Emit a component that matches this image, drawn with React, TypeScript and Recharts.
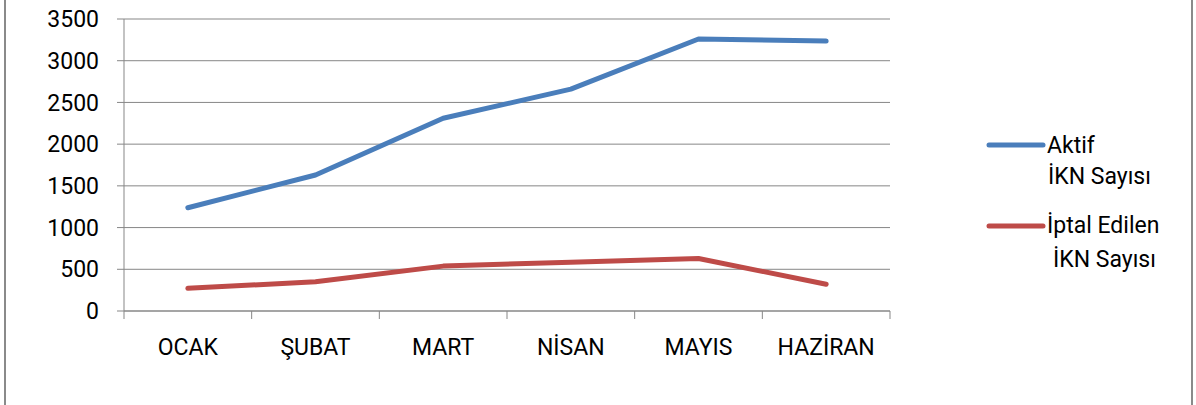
import React from "react";
import { LineChart, Line, XAxis, YAxis, CartesianGrid, Legend } from "recharts";

const months = ["OCAK", "ŞUBAT", "MART", "NİSAN", "MAYIS", "HAZİRAN"];
const aktif = [1238, 1630, 2310, 2660, 3260, 3235];
const iptal = [272, 350, 538, 585, 630, 320];
const yTicks = [0, 500, 1000, 1500, 2000, 2500, 3000, 3500];

const seriesNames = ["Aktif İKN Sayısı", "İptal Edilen İKN Sayısı"];
const seriesColors = ["#4A7EBB", "#BE4B48"];

const data = months.map((m, i) => ({ month: m, aktif: aktif[i], iptal: iptal[i] }));

const W = 1196;
const H = 405;
const LEFT = 124;
const RIGHT = 306;
const PLOT_W = W - LEFT - RIGHT;
const BAND = PLOT_W / months.length;
const GRID = "#878787";
const FONT = "Roboto, 'Noto Sans', sans-serif";

const MonthTick = (props: any) => {
  const { x, y, payload, index } = props;
  const half = BAND / 2;
  return (
    <g>
      <line x1={x - half} y1={y} x2={x - half} y2={y + 8} stroke={GRID} strokeWidth={1} />
      {index === months.length - 1 && (
        <line x1={x + half} y1={y} x2={x + half} y2={y + 8} stroke={GRID} strokeWidth={1} />
      )}
      <text x={x} y={y + 44} textAnchor="middle" fontSize={23} fontFamily={FONT} fill="#000">
        {payload.value}
      </text>
    </g>
  );
};

// legend labels wrap onto two lines like the original
const legendLines = [
  { lineY: 25, rows: [{ t: "Aktif", x: 67, y: 33 }, { t: "İKN Sayısı", x: 68, y: 64 }] },
  { lineY: 106, rows: [{ t: "İptal Edilen", x: 67, y: 113 }, { t: "İKN Sayısı", x: 73, y: 147 }] },
];

const LegendBox = (props: any) => {
  const payload = props.payload || [];
  return (
    <svg width={216} height={160} style={{ display: "block" }}>
      {payload.map((p: any, i: number) => {
        const cfg = legendLines[i];
        const words = String(p.value).split(" İKN ");
        const rows = [words[0], "İKN " + (words[1] || "")];
        return (
          <g key={p.value}>
            <line x1={9} y1={cfg.lineY} x2={63} y2={cfg.lineY} stroke={p.color} strokeWidth={5} strokeLinecap="round" />
            {rows.map((r, j) => (
              <text key={j} x={cfg.rows[j].x} y={cfg.rows[j].y} fontSize={23} fontFamily={FONT} fill="#000">
                {r}
              </text>
            ))}
          </g>
        );
      })}
    </svg>
  );
};

export default function App() {
  return (
    <div style={{ position: "absolute", left: 0, top: 0, width: W, height: H, background: "#fff" }}>
      <div style={{ position: "absolute", left: 4, top: 0, width: 1.5, height: H, background: "#8a8a8a" }} />
      <div style={{ position: "absolute", left: 1191, top: 0, width: 1.5, height: H, background: "#8a8a8a" }} />
      <LineChart width={W} height={H} data={data} margin={{ top: 19, right: RIGHT, bottom: 0, left: 0 }}>
        <CartesianGrid vertical={false} stroke={GRID} strokeWidth={1} />
        <XAxis
          dataKey="month"
          scale="band"
          height={94}
          tickSize={0}
          tickMargin={0}
          tickLine={false}
          axisLine={{ stroke: GRID }}
          tick={<MonthTick />}
          interval={0}
        />
        <YAxis
          width={LEFT}
          domain={[0, 3500]}
          ticks={yTicks}
          interval={0}
          tickSize={7}
          tickMargin={18}
          tickLine={{ stroke: GRID }}
          axisLine={{ stroke: GRID }}
          tick={{ fontSize: 23, fontFamily: FONT, fill: "#000" }}
        />
        <Legend
          layout="vertical"
          align="center"
          verticalAlign="middle"
          wrapperStyle={{ left: 980, top: 120, width: 216 }}
          content={<LegendBox />}
        />
        <Line
          type="linear"
          dataKey="aktif"
          name={seriesNames[0]}
          stroke={seriesColors[0]}
          strokeWidth={5}
          strokeLinecap="round"
          strokeLinejoin="round"
          dot={false}
          activeDot={false}
          isAnimationActive={false}
        />
        <Line
          type="linear"
          dataKey="iptal"
          name={seriesNames[1]}
          stroke={seriesColors[1]}
          strokeWidth={5}
          strokeLinecap="round"
          strokeLinejoin="round"
          dot={false}
          activeDot={false}
          isAnimationActive={false}
        />
      </LineChart>
    </div>
  );
}
